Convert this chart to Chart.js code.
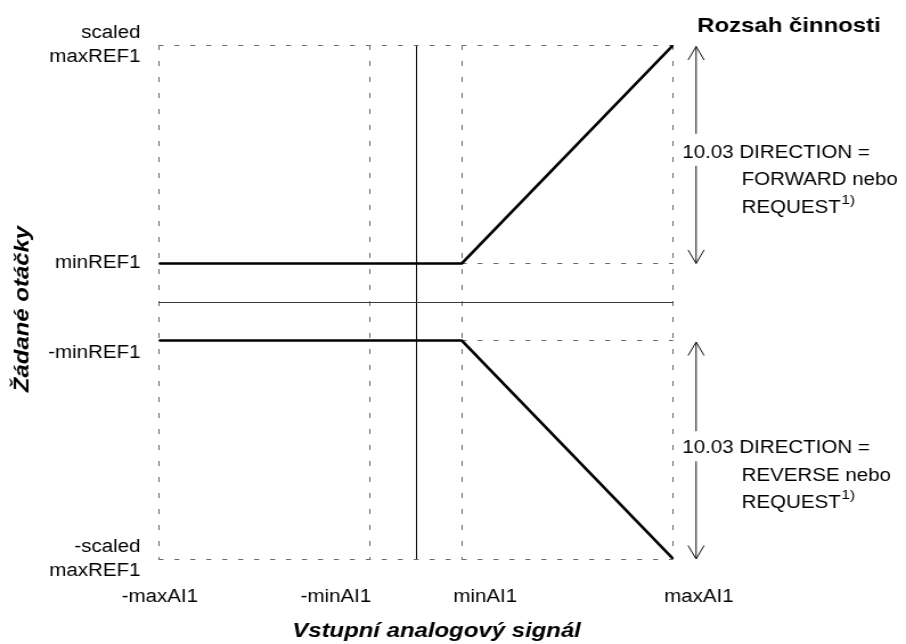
<!DOCTYPE html>
<html lang="cs">
<head>
    <meta charset="UTF-8">
    <title>Žádané otáčky</title>
    <script src="https://cdn.jsdelivr.net/npm/chart.js"></script>
    <style>
        html, body { margin: 0; padding: 0; background: #fff; }
        #refChart { display: block; }
    </style>
</head>
<body>
    <!-- the original uses a wide sans, so the canvas is drawn narrower and shown stretched to 906px -->
    <canvas id="refChart" width="795" height="644" style="width:906px;height:644px"></canvas>
    <script>
        // Data
        const signal = [-100, 17.8, 100];        // -maxAI1, minAI1, maxAI1
        const forwardRef = [15, 15, 100];
        const reverseRef = [-15, -15, -100];

        const xTickValues = [-100, -17.8, 0, 17.8, 100];
        const xTickLabels = ['-maxAI1', '-minAI1', '', 'minAI1', 'maxAI1'];
        const yTickValues = [-100, -15, 0, 15, 100];
        const yTickLabels = [['-scaled', 'maxREF1'], ['', '-minREF1'], '', 'minREF1', ['scaled', 'maxREF1']];

        const xTitle = 'Vstupní analogový signál';
        const yTitle = 'Žádané otáčky';
        const rangeTitle = 'Rozsah činnosti';
        const forwardNote = ['10.03 DIRECTION =', 'FORWARD nebo', 'REQUEST'];
        const reverseNote = ['10.03 DIRECTION =', 'REVERSE nebo', 'REQUEST'];
        const footnoteMark = '1)';

        // Styles
        const STRETCH = 906 / 795;
        const FONT = '"Liberation Sans", Arial, Helvetica, sans-serif';
        const xLabelAlign = ['center', 'right', 'center', 'left', 'left'];
        const xLabelShift = [1, 1, 0, -7.6, -8.1];
        const NOTE_LINE = 27.5;

        function drawArrow(ctx, x, yTop, yBottom, gapTop, gapBottom) {
            ctx.beginPath();
            ctx.moveTo(x, yTop);
            ctx.lineTo(x, gapTop);
            ctx.moveTo(x, gapBottom);
            ctx.lineTo(x, yBottom);
            ctx.moveTo(x - 7, yTop + 13.5);
            ctx.lineTo(x, yTop);
            ctx.lineTo(x + 7, yTop + 13.5);
            ctx.moveTo(x - 7, yBottom - 13.5);
            ctx.lineTo(x, yBottom);
            ctx.lineTo(x + 7, yBottom - 13.5);
            ctx.stroke();
        }

        function drawNote(ctx, lines, x0, x1, baseline) {
            ctx.font = '18px ' + FONT;
            ctx.textAlign = 'left';
            ctx.textBaseline = 'alphabetic';
            lines.forEach((t, i) => ctx.fillText(t, i === 0 ? x0 : x1, baseline + i * NOTE_LINE));
            const last = lines[lines.length - 1];
            const w = ctx.measureText(last).width;
            ctx.font = '13.5px ' + FONT;
            ctx.fillText(footnoteMark, x1 + w + 0.5, baseline + (lines.length - 1) * NOTE_LINE - 9);
        }

        // Labels, arrows and notes drawn against the scales
        const notesPlugin = {
            id: 'notes',
            afterDraw(chart) {
                const ctx = chart.ctx;
                const xs = chart.scales.x;
                const ys = chart.scales.y;
                const area = chart.chartArea;
                ctx.save();
                ctx.fillStyle = '#000';
                ctx.strokeStyle = '#111';
                ctx.lineWidth = 1;

                // x tick labels
                ctx.font = '18px ' + FONT;
                ctx.textBaseline = 'alphabetic';
                xTickValues.forEach((v, i) => {
                    if (!xTickLabels[i]) return;
                    ctx.textAlign = xLabelAlign[i];
                    ctx.fillText(xTickLabels[i], xs.getPixelForValue(v) + xLabelShift[i], area.bottom + 43);
                });

                // axis titles
                ctx.font = 'italic bold 21px ' + FONT;
                ctx.textAlign = 'center';
                ctx.fillText(xTitle, (area.left + area.right) / 2 + 18, area.bottom + 78);

                ctx.save();
                ctx.translate(25, (area.top + area.bottom) / 2 + 7);
                ctx.rotate(-Math.PI / 2);
                ctx.scale(STRETCH, 1 / STRETCH);
                ctx.fillText(yTitle, 0, 0);
                ctx.restore();

                // range header
                ctx.font = 'bold 21px ' + FONT;
                ctx.textAlign = 'left';
                ctx.fillText(rangeTitle, area.right + 21, area.top - 13.3);

                // range arrows with notes
                const ax = area.right + 20;
                const yMax = ys.getPixelForValue(yTickValues[4]);
                const yMin = ys.getPixelForValue(yTickValues[3]);
                const yNegMin = ys.getPixelForValue(yTickValues[1]);
                const yNegMax = ys.getPixelForValue(yTickValues[0]);

                const upperBase = (yMax + yMin) / 2 + 3.6;
                const lowerBase = (yNegMin + yNegMax) / 2 + 3.5;
                drawArrow(ctx, ax, yMax + 1.5, yMin, upperBase - 24, upperBase + 8);
                drawArrow(ctx, ax, yNegMin + 1.5, yNegMax, lowerBase - 22, lowerBase + 8);

                drawNote(ctx, forwardNote, area.right + 8, area.right + 60, upperBase);
                drawNote(ctx, reverseNote, area.right + 8, area.right + 60, lowerBase);
                ctx.restore();
            }
        };

        const gridColor = (c) => (c.tick && c.tick.value === 0 ? '#000' : '#6a6a6a');

        const config = {
            type: 'scatter',
            data: {
                datasets: [{
                    label: 'FORWARD',
                    data: signal.map((x, i) => ({x: x, y: forwardRef[i]})),
                    showLine: true,
                    borderColor: '#000',
                    borderWidth: 2.6,
                    pointRadius: 0
                }, {
                    label: 'REVERSE',
                    data: signal.map((x, i) => ({x: x, y: reverseRef[i]})),
                    showLine: true,
                    borderColor: '#000',
                    borderWidth: 2.6,
                    pointRadius: 0
                }]
            },
            options: {
                responsive: false,
                animation: false,
                devicePixelRatio: 1,
                layout: {
                    padding: {left: 0, right: 204.2, top: 45, bottom: 0}
                },
                plugins: {
                    legend: {display: false},
                    tooltip: {enabled: false}
                },
                scales: {
                    x: {
                        type: 'linear',
                        min: -100,
                        max: 100,
                        afterBuildTicks: (s) => { s.ticks = xTickValues.map(v => ({value: v})); },
                        afterFit: (s) => { s.height = 85; },
                        ticks: {display: false},
                        grid: {drawTicks: false, lineWidth: 1, color: gridColor},
                        border: {display: false, dash: (c) => (c.tick && c.tick.value === 0 ? [] : [5, 11])}
                    },
                    y: {
                        type: 'linear',
                        min: -100,
                        max: 100,
                        afterBuildTicks: (s) => { s.ticks = yTickValues.map(v => ({value: v})); },
                        afterFit: (s) => { s.width = 139.3; },
                        ticks: {
                            autoSkip: false,
                            padding: 16,
                            color: '#000',
                            font: {family: FONT, size: 18, lineHeight: 1.36},
                            callback: (v) => yTickLabels[yTickValues.indexOf(v)]
                        },
                        grid: {
                            drawTicks: false,
                            lineWidth: 1,
                            color: (c) => (c.tick && c.tick.value === 0 ? '#3a3a3a' : '#6a6a6a')
                        },
                        border: {display: false, dash: (c) => (c.tick && c.tick.value === 0 ? [] : [4.4, 9.6])}
                    }
                }
            },
            plugins: [notesPlugin]
        };

        const myChart = new Chart(document.getElementById('refChart'), config);
    </script>
</body>
</html>
